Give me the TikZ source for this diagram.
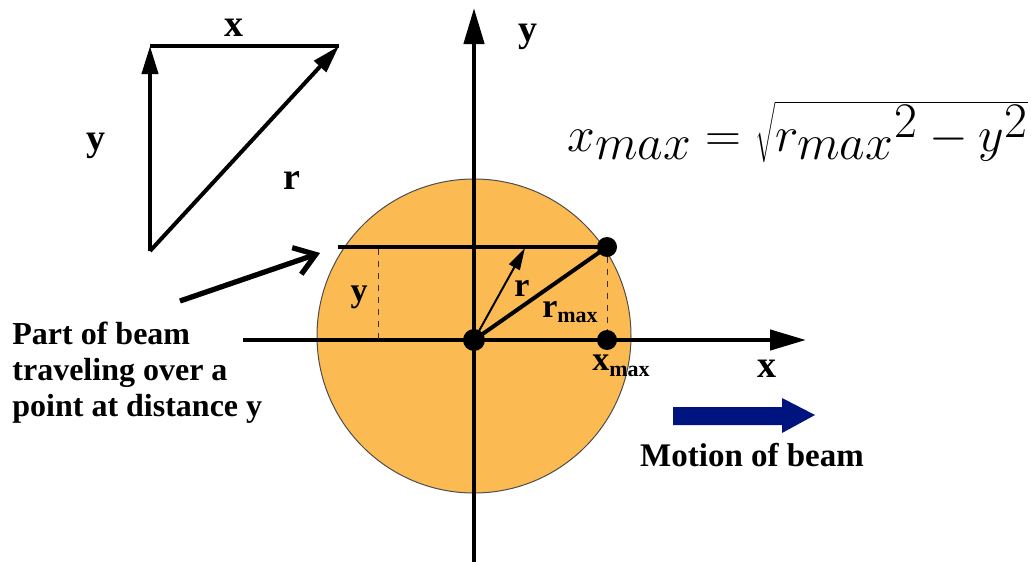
\documentclass[tikz,border=0pt]{standalone}
\usepackage{fontspec}
\setmainfont{Liberation Serif}
\usetikzlibrary{arrows.meta, positioning}

\definecolor{beamorange}{RGB}{252,187,82}
\definecolor{beamblue}{RGB}{0,20,128}

\tikzset{
  axis/.style={line width=2.2pt, -{Triangle[length=18pt, width=10pt]}},
  vec/.style={line width=2pt, -{Triangle[length=14pt, width=8pt]}},
  bar/.style={line width=2pt},
  guide/.style={dashed, line width=0.5pt, black!80},
  lbl/.style={font=\bfseries\fontsize{19}{22}\selectfont},
  sublbl/.style={font=\bfseries\fontsize{17}{20}\selectfont},
  dot/.style={circle, fill=black, inner sep=0pt, minimum size=10pt},
}

\begin{document}
\begin{tikzpicture}[x=0.5pt, y=-0.5pt, font=\bfseries\fontsize{16}{18}\selectfont]
\useasboundingbox (0,0) rectangle (1034,562);
\clip (0,0) rectangle (1034,562);

% ── beam disc ────────────────────────────────────────────────────
\fill[beamorange, draw=black!70, line width=0.5pt] (474,336) circle (157);

% ── key points ───────────────────────────────────────────────────
\coordinate (ybot) at (474,562);
\coordinate (ytop) at (474,8);
\coordinate (xleft) at (243,340);
\coordinate (xright) at (806,340);
\coordinate (bleft) at (338,247);
\coordinate (yfoot) at (378,340);
\coordinate (yhead) at (378,249);
\coordinate (rtip) at (525,248);

% Axes
\draw[axis] (ybot) -- (ytop);
\draw[axis] (xleft) -- (xright);
\node[lbl] (ylabel) at (528,37) {y};
\node[lbl] (xlabel) at (767,369) {x};

% Beam slice at distance y
\node[dot] (pmax) at (607,247) {};
\node[dot] (qmax) at (607,340) {};
\node[dot, minimum size=11pt] (origin) at (474,340) {};
\draw[bar] (bleft) -- (pmax.center);
\draw[guide] (pmax) -- (qmax);
\draw[guide] (yhead) -- (yfoot);
\node[sublbl] (ydist) at (359,297) {y};

% Radius vectors
\draw[line width=1pt, -{Triangle[length=11pt, width=6pt]}] (origin.center) -- (rtip);
\draw[bar] (origin.center) -- (pmax.center);
\node[sublbl] (rlabel) at (522,288) {r};
\node[sublbl] (rmax) at (570,312) {r\raisebox{-0.35ex}{\fontsize{11}{12}\selectfont max}};
\node[sublbl] (xmax) at (621,366) {x\raisebox{-0.35ex}{\fontsize{11}{12}\selectfont max}};

% ── vector triangle ──────────────────────────────────────────────
\coordinate (tbot) at (150,251);
\coordinate (tleft) at (150,46);
\coordinate (tright) at (339,46);
\draw[vec] (tbot) -- (tleft);
\draw[bar] (tleft) -- (tright);
\draw[vec] (tbot) -- (tright);
\node[lbl] (tx) at (234,28) {x};
\node[lbl] (ty) at (96,146) {y};
\node[lbl] (tr) at (292,180) {r};

% ── pointer to the slice ─────────────────────────────────────────
\coordinate (pfrom) at (180,301);
\coordinate (pto) at (320,253);
\draw[line width=2.6pt, black!25, -{Straight Barb[length=10pt, width=14pt]}, shift={(2,3)}] (pfrom) -- (pto);
\draw[line width=2.6pt, -{Straight Barb[length=10pt, width=14pt]}] (pfrom) -- (pto);
\node[anchor=north west, align=left, inner sep=0pt] (beamtext) at (12,322)
    {Part of beam\\traveling over a\\point at distance y};

% ── formula ──────────────────────────────────────────────────────
\node[anchor=west, inner sep=0pt, font=\fontsize{34}{38}\selectfont] (formula) at (567,132)
    {$x_{max} = \sqrt{{r_{max}}^2 - y^2}$};

% ── motion of beam ───────────────────────────────────────────────
\fill[beamblue] (673,407) -- (782,407) -- (782,398) -- (815,415)
    -- (782,433) -- (782,425) -- (673,425) -- cycle;
\node[font=\bfseries\fontsize{16.5}{18}\selectfont] (motion) at (752,455) {Motion of beam};

\end{tikzpicture}
\end{document}
